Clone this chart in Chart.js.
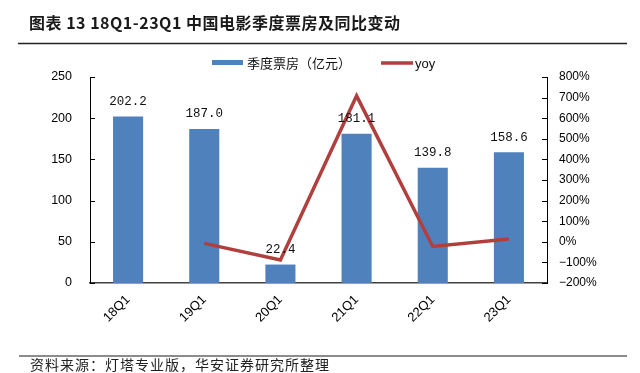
<!DOCTYPE html>
<html>
<head>
<meta charset="utf-8">
<script src="https://cdn.jsdelivr.net/npm/chart.js@4/dist/chart.umd.min.js"></script>
<style>
html,body{margin:0;padding:0;background:#fff;}
#wrap{width:640px;height:373px;position:relative;}
</style>
</head>
<body>
<div id="wrap"><canvas id="c" width="640" height="373"></canvas></div>
<script>
const categories = ['18Q1','19Q1','20Q1','21Q1','22Q1','23Q1'];
const boxOffice = [202.2, 187.0, 22.4, 181.1, 139.8, 158.6];
const yoy = [null, -7.5, -88.0, 708.5, -22.8, 13.4];
const leftTicks = [0, 50, 100, 150, 200, 250];
const rightTicks = [-200, -100, 0, 100, 200, 300, 400, 500, 600, 700, 800];
const titleText = '图表 13 18Q1-23Q1 中国电影季度票房及同比变动';
const sourceText = '资料来源：灯塔专业版，华安证券研究所整理';
const seriesNames = ['季度票房（亿元）', 'yoy'];

const BAR = '#4F81BD';
const LINE = '#B0403D';
const CJK = '"Noto Sans CJK SC", sans-serif';

const decor = {
  id: 'decor',
  afterDraw(chart) {
    const ctx = chart.ctx;
    const ys = chart.scales.y, yr = chart.scales.y1;
    ctx.save();
    // title
    ctx.fillStyle = '#1a1a1a';
    ctx.font = 'bold 16px ' + CJK;
    ctx.textAlign = 'left';
    ctx.textBaseline = 'middle';
    if ('letterSpacing' in ctx) ctx.letterSpacing = '0.5px';
    ctx.fillText(titleText, 29, 23);
    if ('letterSpacing' in ctx) ctx.letterSpacing = '0px';
    ctx.strokeStyle = '#222';
    ctx.lineWidth = 1.5;
    ctx.beginPath(); ctx.moveTo(18, 43.5); ctx.lineTo(627, 43.5); ctx.stroke();
    // source
    ctx.strokeStyle = '#8c8c8c';
    ctx.lineWidth = 2;
    ctx.beginPath(); ctx.moveTo(19, 356); ctx.lineTo(627, 356); ctx.stroke();
    ctx.fillStyle = '#222';
    ctx.font = '14px ' + CJK;
    if ('letterSpacing' in ctx) ctx.letterSpacing = '1px';
    ctx.fillText(sourceText, 30, 365);
    if ('letterSpacing' in ctx) ctx.letterSpacing = '0px';
    // legend
    ctx.fillStyle = BAR;
    ctx.fillRect(212, 60, 31, 5);
    ctx.fillStyle = '#111';
    ctx.font = '13px ' + CJK;
    ctx.fillText(seriesNames[0], 247, 63);
    ctx.strokeStyle = LINE;
    ctx.lineWidth = 3.5;
    ctx.beginPath(); ctx.moveTo(381, 63); ctx.lineTo(413, 63); ctx.stroke();
    ctx.fillStyle = '#111';
    ctx.font = '13px "Liberation Sans", Arial, sans-serif';
    ctx.fillText(seriesNames[1], 415, 64);
    // inward tick marks
    ctx.strokeStyle = '#000';
    ctx.lineWidth = 1;
    leftTicks.forEach(v => {
      const y = Math.round(ys.getPixelForValue(v)) + 0.5;
      ctx.beginPath(); ctx.moveTo(ys.right, y); ctx.lineTo(ys.right + 5, y); ctx.stroke();
    });
    rightTicks.forEach(v => {
      const y = Math.round(yr.getPixelForValue(v)) + 0.5;
      ctx.beginPath(); ctx.moveTo(yr.left, y); ctx.lineTo(yr.left - 5, y); ctx.stroke();
    });
    ctx.restore();
  },
  afterDatasetsDraw(chart) {
    const ctx = chart.ctx;
    const meta = chart.getDatasetMeta(1);
    ctx.save();
    ctx.fillStyle = '#111';
    ctx.font = '12.5px "Liberation Mono", "DejaVu Sans Mono", monospace';
    ctx.textAlign = 'center';
    ctx.textBaseline = 'middle';
    meta.data.forEach((el, i) => {
      ctx.fillText(boxOffice[i].toFixed(1), el.x, el.y - 15);
    });
    ctx.restore();
  }
};

new Chart(document.getElementById('c'), {
  data: {
    labels: categories,
    datasets: [
      {
        type: 'line', label: seriesNames[1], data: yoy, yAxisID: 'y1',
        borderColor: LINE, backgroundColor: LINE, borderWidth: 3.5,
        pointRadius: 0, tension: 0, spanGaps: false, order: 0
      },
      {
        type: 'bar', label: seriesNames[0], data: boxOffice, yAxisID: 'y',
        backgroundColor: BAR, borderWidth: 0,
        categoryPercentage: 1, barPercentage: 0.395, order: 1
      }
    ]
  },
  plugins: [decor],
  options: {
    responsive: false,
    animation: false,
    layout: { padding: { top: 77, left: 0, right: 0, bottom: 0 } },
    plugins: { legend: { display: false }, tooltip: { enabled: false }, title: { display: false } },
    scales: {
      x: {
        grid: { display: false, drawTicks: false },
        border: { display: true, color: '#404040', width: 1.5 },
        ticks: {
          minRotation: 45, maxRotation: 45, padding: 9,
          color: '#000', font: { size: 13, family: '"Liberation Sans", Arial, sans-serif' }
        },
        afterFit(s) { s.height = 90; }
      },
      y: {
        position: 'left', min: 0, max: 250,
        afterBuildTicks(s) { s.ticks = leftTicks.map(v => ({ value: v })); },
        grid: { display: false, drawTicks: false },
        border: { display: true, color: '#000', width: 1 },
        ticks: {
          padding: 18, color: '#000',
          font: { size: 12.5, family: '"Liberation Sans", Arial, sans-serif' }
        },
        afterFit(s) { s.width = 90; }
      },
      y1: {
        position: 'right', min: -200, max: 800,
        afterBuildTicks(s) { s.ticks = rightTicks.map(v => ({ value: v })); },
        grid: { display: false, drawTicks: false },
        border: { display: true, color: '#000', width: 1 },
        ticks: {
          padding: 12, color: '#000',
          font: { size: 12, family: '"Liberation Sans", Arial, sans-serif' },
          callback: v => (v < 0 ? '−' + Math.abs(v) : v) + '%'
        },
        afterFit(s) { s.width = 93; }
      }
    }
  }
});
</script>
</body>
</html>
